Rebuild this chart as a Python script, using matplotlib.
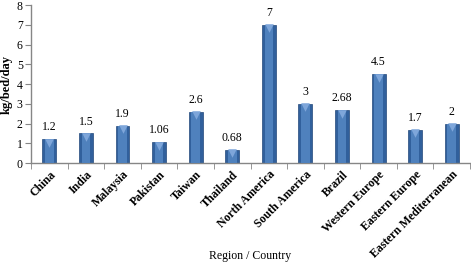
import numpy as np
import matplotlib.pyplot as plt
from matplotlib.ticker import FixedLocator

# data
regions = ['China', 'India', 'Malaysia', 'Pakistan', 'Taiwan', 'Thailand',
           'North America', 'South America', 'Brazil', 'Western Europe',
           'Eastern Europe', 'Eastern Mediterranean']
values = [1.2, 1.5, 1.9, 1.06, 2.6, 0.68, 7, 3, 2.68, 4.5, 1.7, 2]
value_labels = ['1.2', '1.5', '1.9', '1.06', '2.6', '0.68', '7', '3', '2.68',
                '4.5', '1.7', '2']

plt.rcParams['font.family'] = ['Liberation Serif', 'DejaVu Serif']

fig = plt.figure(figsize=(4.71, 2.70), dpi=100)
ax = fig.add_axes([0.066, 0.396, 0.932, 0.585])

x = np.arange(len(regions))
w = 0.38
# bevelled look: dark outer bar, lighter inner face, light top triangle
ax.bar(x, values, width=w, color='#31609c', edgecolor='#24497a', linewidth=0.5, zorder=2)
ax.bar(x, values, width=w * 0.62, color='#4f81bd', linewidth=0, zorder=3)
ax.scatter(x, np.array(values) - 0.17, marker='v', s=38, color='#7ea6da',
           linewidths=0, zorder=4)

for xi, v, lab in zip(x, values, value_labels):
    ax.text(xi, v + 0.3, lab, ha='center', va='bottom', fontsize=8.5)

ax.set_xlim(-0.5, len(regions) - 0.5)
ax.set_ylim(0, 8)
ax.set_yticks(range(0, 9))
ax.set_xticks(x)
ax.set_xticklabels(regions, rotation=45, ha='right', rotation_mode='anchor',
                   fontsize=8.5, fontweight='bold')
ax.tick_params(axis='x', length=0, pad=4)
ax.xaxis.set_minor_locator(FixedLocator(np.arange(-0.5, len(regions), 1)))
ax.tick_params(axis='x', which='minor', length=4, color='#868686', direction='out')
ax.tick_params(axis='y', length=4, color='#868686', direction='out', labelsize=8.5, pad=2)

for s in ['top', 'right']:
    ax.spines[s].set_visible(False)
for s in ['left', 'bottom']:
    ax.spines[s].set_color('#868686')
    ax.spines[s].set_linewidth(1)

ax.set_ylabel('kg/bed/day', fontsize=9, fontweight='bold', labelpad=3)
fig.text(0.53, 0.03, 'Region / Country', ha='center', va='bottom', fontsize=8.5)

fig.savefig('out.png', dpi=100)
